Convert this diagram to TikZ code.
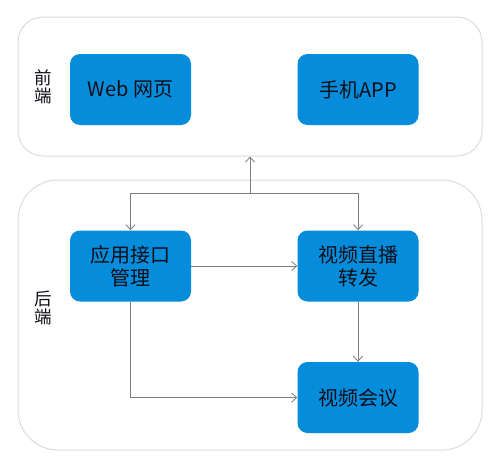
\documentclass[tikz,border=0pt]{standalone}
\usepackage{fontspec}
\setmainfont{Noto Sans CJK SC}
\usetikzlibrary{arrows.meta}
\definecolor{boxblue}{RGB}{5,140,218}
\definecolor{txt}{RGB}{15,15,25}
\definecolor{frame}{RGB}{220,220,220}
\definecolor{arrgray}{RGB}{125,125,125}
\tikzset{
  box/.style={fill=boxblue, draw=none, rounded corners=10pt, minimum width=121pt, minimum height=71pt,
    align=center, text=txt, font=\fontsize{20}{23}\selectfont, inner sep=0pt},
  container/.style={draw=frame, line width=1pt, fill=white, inner sep=0pt},
  side/.style={text=txt, font=\fontsize{17.5}{18}\selectfont, align=center, inner sep=0pt},
  arr/.style={draw=arrgray, line width=0.8pt, -{Straight Barb[length=5pt,width=9pt]}},
}
\begin{document}
\begin{tikzpicture}[x=1pt,y=-1pt]
\useasboundingbox (0,0) rectangle (500,463);
\fill[white] (0,0) rectangle (500,463);
\node[container, rounded corners=25pt, minimum width=464pt, minimum height=139pt] (front) at (250,86.5) {};
\node[container, rounded corners=40pt, minimum width=464pt, minimum height=270pt] (back) at (250,315) {};
\node[side] (fl) at (43,87) {前\\端};
\node[side] (bl) at (43,308) {后\\端};
\node[box] (web) at (130.5,89.5) {Web 网页};
\node[box] (app) at (358,89.5) {手机APP};
\node[box] (api) at (130.5,266) {应用接口\\管理};
\node[box] (live) at (358,266) {视频直播\\转发};
\node[box] (conf) at (358,397.5) {视频会议};
\coordinate (j) at (250,193);
\draw[arr] (j) -- (front.south);
\draw[arr] (j) -| (api.north);
\draw[arr] (j) -| (live.north);
\draw[arr] (api.east) -- (live.west);
\draw[arr] (live.south) -- (conf.north);
\draw[arr] (api.south) |- (conf.west);
\end{tikzpicture}
\end{document}
